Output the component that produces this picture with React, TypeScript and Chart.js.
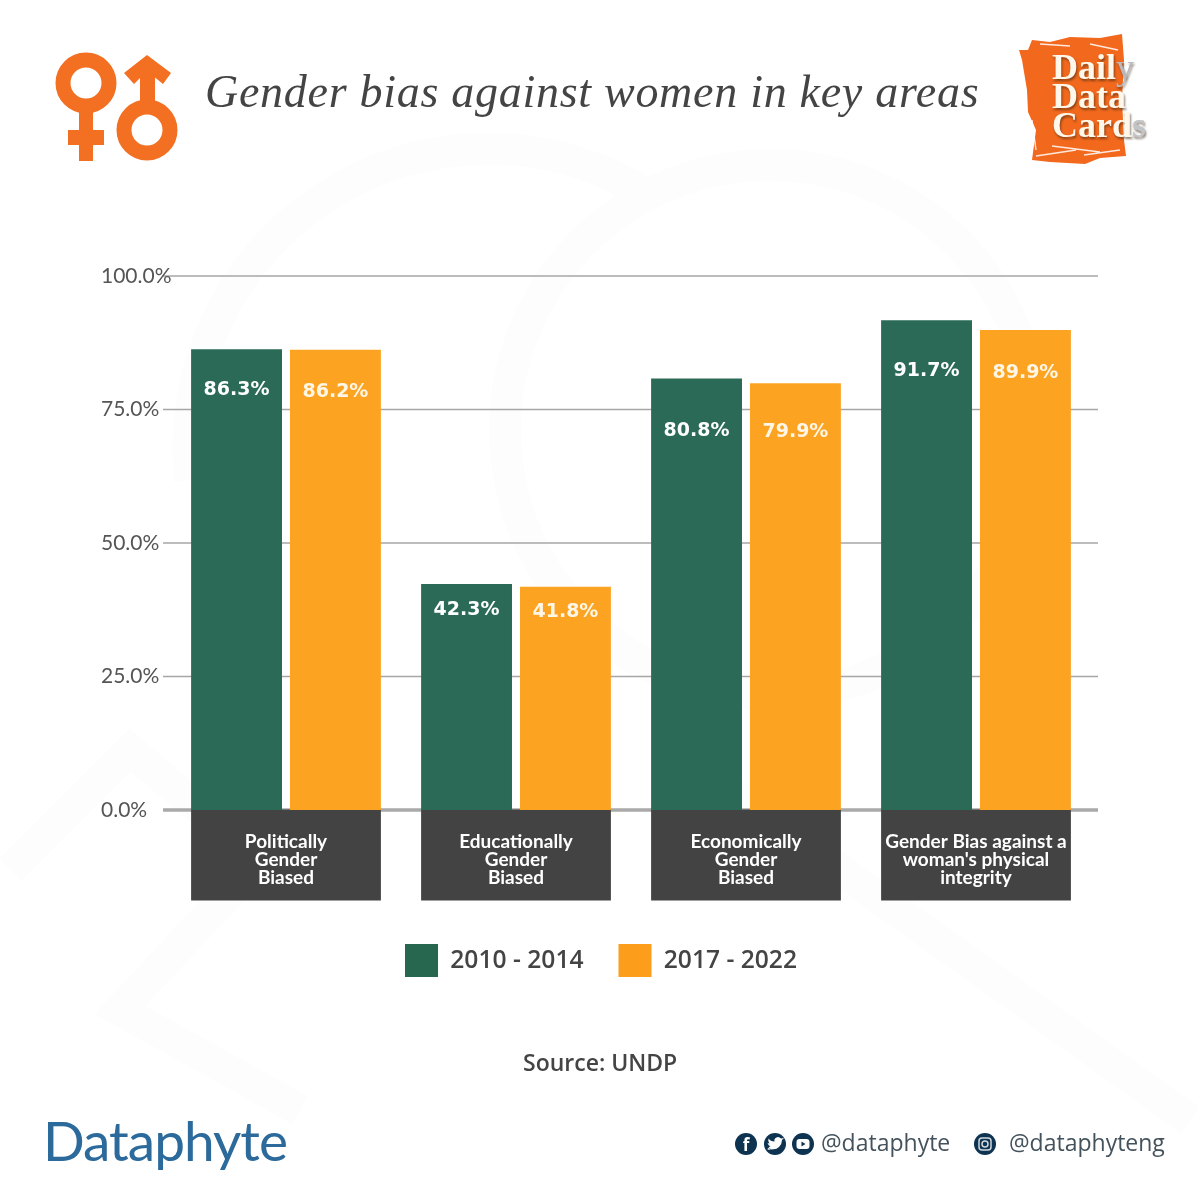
import React, { useEffect, useRef } from "react";
import { Chart, registerables } from "chart.js";

Chart.register(...registerables);

const categories = [
  ["Politically", "Gender", "Biased"],
  ["Educationally", "Gender", "Biased"],
  ["Economically", "Gender", "Biased"],
  ["Gender Bias against a", "woman's physical", "integrity"],
];
const series2010 = [86.3, 42.3, 80.8, 91.7];
const series2017 = [86.2, 41.8, 79.9, 89.9];
const seriesNames = ["2010 - 2014", "2017 - 2022"];
const yTicks = [0, 25, 50, 75, 100];

const GREEN = "#2a6a56";
const ORANGE = "#fca422";
const LEGEND_GREEN = "#27664f";
const LEGEND_ORANGE = "#fc9e1b";
const LEGEND_TEXT = "#444444";

// how far below each bar's top its value label sits in the reference
const labelDrop = [
  [41, 26, 53, 51],
  [42, 25, 49, 43],
];

const framePlugin = {
  id: "frame",
  afterLayout(chart: any) {
    const shift = 5;
    chart.legend.left += shift;
    chart.legend.right += shift;
  },
  beforeDraw(chart: any) {
    const { ctx } = chart;
    const base = chart.scales.y.getPixelForValue(0);
    const m0 = chart.getDatasetMeta(0).data;
    const m1 = chart.getDatasetMeta(1).data;
    ctx.save();
    yTicks.forEach((t) => {
      const y = chart.scales.y.getPixelForValue(t);
      ctx.strokeStyle = t === 0 ? "#a9a9a9" : "#a6a6a6";
      ctx.lineWidth = t === 0 ? 3.5 : 1.5;
      ctx.beginPath();
      ctx.moveTo(163, y);
      ctx.lineTo(1098, y);
      ctx.stroke();
    });
    ctx.fillStyle = "#434343";
    m0.forEach((bar: any, i: number) => {
      const l = bar.x - bar.width / 2;
      const r = m1[i].x + m1[i].width / 2;
      ctx.fillRect(l, base - 0.5, r - l, 91);
    });
    ctx.restore();
  },
  afterDatasetsDraw(chart: any) {
    const { ctx } = chart;
    ctx.save();
    ctx.font = "bold 19px 'DejaVu Sans'";
    ctx.textAlign = "center";
    ctx.textBaseline = "middle";
    chart.data.datasets.forEach((ds: any, d: number) => {
      ctx.fillStyle = d === 0 ? "#ffffff" : "#fff6e6";
      chart.getDatasetMeta(d).data.forEach((bar: any, i: number) => {
        ctx.fillText(ds.data[i].toFixed(1) + "%", bar.x, bar.y + labelDrop[d][i]);
      });
    });
    ctx.restore();
  },
};

function Background() {
  return (
    <svg width={1200} height={1200} style={{ position: "absolute", left: 0, top: 0 }}>
      <g fill="none" stroke="#fdfdfd" strokeWidth={32}>
        <circle cx={770} cy={430} r={265} />
        <path d="M 190 480 A 300 300 0 0 1 640 190" />
        <path d="M 10 870 L 130 750 L 260 860 L 120 1010 L 300 1110" />
        <path d="M 700 770 L 1190 1120" />
      </g>
    </svg>
  );
}

function GenderIcon() {
  const c = "#f36f21";
  return (
    <svg width={200} height={180} style={{ position: "absolute", left: 30, top: 20 }}>
      <g transform="translate(-30,-20)">
        <circle cx={86} cy={83} r={23} fill="none" stroke={c} strokeWidth={15} />
        <rect x={79} y={105} width={14} height={56} fill={c} />
        <rect x={68} y={130} width={36} height={15} fill={c} />
        <circle cx={147} cy={130} r={23} fill="none" stroke={c} strokeWidth={15} />
        <rect x={140} y={68} width={15} height={40} fill={c} />
        <polygon points="147,55 171,73 163,84 147,71 134,84 124,73" fill={c} />
      </g>
    </svg>
  );
}

function DailyLogo() {
  return (
    <svg width={200} height={180} style={{ position: "absolute", left: 980, top: 10 }}>
      <g transform="translate(-980,-10)">
        <polygon
          fill="#f2681c"
          points="1032,40 1050,42 1070,37 1100,38 1122,34 1124,60 1122,100 1124,140 1126,156 1100,158 1085,164 1050,162 1032,160 1036,130 1028,112 1027,90 1022,60 1019,50 1028,50"
        />
        <g stroke="#fff" strokeWidth={1.4} opacity={0.85}>
          <path d="M1036 156 L1076 150 M1052 146 L1100 152 M1084 155 L1120 150 M1032 120 L1036 150 M1040 44 L1070 46 M1090 44 L1118 50" />
        </g>
        <g fontFamily="'Liberation Serif'" fontWeight="bold" fontSize={36} style={{ filter: "drop-shadow(1px 2px 1px rgba(60,40,20,.6))" }}>
          <text x={1052} y={79} fill="#fff7ea">Dail<tspan fill="#b9b9bd" fontWeight="normal">y</tspan></text>
          <text x={1052} y={108} fill="#fff7ea">Data</text>
          <text x={1052} y={137} fill="#fff7ea">Car<tspan>d</tspan><tspan fill="#c2c4c8">s</tspan></text>
        </g>
      </g>
    </svg>
  );
}

function SocialIcons() {
  const d = "#0e3350";
  return (
    <svg width={280} height={40} style={{ position: "absolute", left: 720, top: 1124 }}>
      <g transform="translate(-720,-1124)">
        <circle cx={746} cy={1144} r={11} fill={d} />
        <circle cx={775} cy={1144} r={11} fill={d} />
        <circle cx={803} cy={1144} r={11} fill={d} />
        <circle cx={985} cy={1144} r={11} fill={d} />
        <text x={746} y={1151} textAnchor="middle" fill="#fff" fontSize={17} fontWeight="bold" fontFamily="'Open Sans'">f</text>
        <path d="M768 1148 q7 3 11 -1 q3 -3 3 -7 l2 -2 l-3 .5 q-3 -3 -6 0 q-1 1 -.5 3 q-4 0 -6 -3 q-1 3 1 5 l-2 -.5 q1 3 3 3.5 l-2 .5 q1 2 3 2 q-2 1 -4 .5 z" fill="#fff" />
        <rect x={796.5} y={1139} width={13} height={10} rx={3} fill="#fff" />
        <polygon points="801.5,1141.5 801.5,1146.5 805.5,1144" fill={d} />
        <rect x={979} y={1138} width={12} height={12} rx={3} fill="none" stroke="#cfd8de" strokeWidth={1.5} />
        <circle cx={985} cy={1144} r={3} fill="none" stroke="#cfd8de" strokeWidth={1.5} />
      </g>
    </svg>
  );
}

export default function App() {
  const ref = useRef<HTMLCanvasElement>(null);

  useEffect(() => {
    document.body.style.margin = "0";
    document.body.style.background = "#ffffff";
    const chart = new Chart(ref.current as HTMLCanvasElement, {
      type: "bar",
      data: {
        labels: categories as any,
        datasets: [
          { label: seriesNames[0], data: series2010, backgroundColor: GREEN },
          { label: seriesNames[1], data: series2017, backgroundColor: ORANGE },
        ],
      },
      options: {
        animation: false,
        responsive: false,
        devicePixelRatio: 1,
        categoryPercentage: 0.86,
        barPercentage: 0.919,
        layout: { padding: { left: 101, right: 109, top: 276, bottom: 213 } },
        plugins: {
          tooltip: { enabled: false },
          legend: {
            position: "bottom",
            labels: {
              boxWidth: 33,
              boxHeight: 33,
              padding: 35,
              color: LEGEND_TEXT,
              font: { family: "'Open Sans'", size: 24.6, weight: "600" },
              generateLabels: () => [
                { text: seriesNames[0], fillStyle: LEGEND_GREEN, strokeStyle: LEGEND_GREEN, fontColor: LEGEND_TEXT, lineWidth: 0, datasetIndex: 0 },
                { text: seriesNames[1], fillStyle: LEGEND_ORANGE, strokeStyle: LEGEND_ORANGE, fontColor: LEGEND_TEXT, lineWidth: 0, datasetIndex: 1 },
              ],
            },
          },
        },
        scales: {
          x: {
            grid: { display: false },
            border: { display: false },
            afterFit: (s: any) => { s.height = 99; },
            ticks: {
              autoSkip: false,
              maxRotation: 0,
              minRotation: 0,
              padding: 15,
              color: "#ffffff",
              font: { family: "Lato", size: 19, weight: "bold", lineHeight: 0.95 },
            },
          },
          y: {
            min: 0,
            max: 100,
            grid: { display: false },
            border: { display: false },
            afterFit: (s: any) => { s.width = 70; },
            afterBuildTicks: (s: any) => { s.ticks = yTicks.map((value) => ({ value })); },
            ticks: {
              crossAlign: "far",
              color: "#555555",
              font: { family: "Lato", size: 21 },
              callback: (v: any) => Number(v).toFixed(1) + "%",
            },
          },
        },
      } as any,
      plugins: [framePlugin],
    });
    return () => chart.destroy();
  }, []);

  const text: React.CSSProperties = { position: "absolute", whiteSpace: "nowrap", lineHeight: 1 };

  return (
    <div style={{ position: "relative", width: 1200, height: 1200, overflow: "hidden", background: "#fff" }}>
      <Background />
      <canvas ref={ref} width={1200} height={1200} style={{ position: "absolute", left: 0, top: 0, display: "block" }} />
      <GenderIcon />
      <DailyLogo />
      <div style={{ ...text, left: 205, top: 69, fontFamily: "'Liberation Serif'", fontStyle: "italic", fontSize: 46, letterSpacing: 0.72, color: "#444444" }}>
        Gender bias against women in key areas
      </div>
      <div style={{ ...text, left: 523, top: 1051, fontFamily: "'Open Sans'", fontWeight: 600, fontSize: 23, color: "#444444" }}>
        Source: UNDP
      </div>
      <div style={{ ...text, left: 43, top: 1113, fontFamily: "Lato", fontSize: 55, letterSpacing: -1, color: "#2b6a9b" }}>
        Dataphyte
      </div>
      <SocialIcons />
      <div style={{ ...text, left: 821, top: 1131, fontFamily: "'Open Sans'", fontSize: 23, color: "#44525c" }}>@dataphyte</div>
      <div style={{ ...text, left: 1009, top: 1131, fontFamily: "'Open Sans'", fontSize: 23, color: "#44525c" }}>@dataphyteng</div>
    </div>
  );
}
